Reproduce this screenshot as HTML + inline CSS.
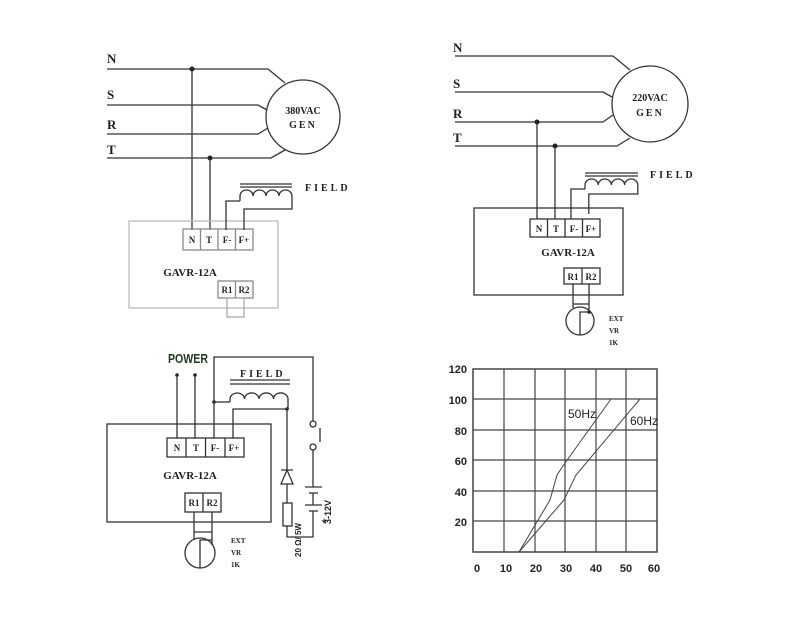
<!DOCTYPE html>
<html><head><style>
body{margin:0;background:#fff}
svg{display:block}
.s{font-family:"Liberation Serif",serif;font-weight:bold;fill:#222}
.a{font-family:"Liberation Sans",sans-serif;font-weight:bold;fill:#222}
</style></head><body>
<svg width="790" height="643" viewBox="0 0 790 643" xmlns="http://www.w3.org/2000/svg" stroke="#333" fill="none" stroke-width="1.3">
<!-- TOP LEFT -->
<g>
<polyline points="107,69 268,69 285,83"/>
<polyline points="107,105 258,105 267,110"/>
<polyline points="107,134 258,134 268,128"/>
<polyline points="107,158 271,158 285,150"/>
<circle cx="303" cy="117" r="37"/>
<g stroke="none">
<text class="s" x="107" y="63" font-size="13">N</text>
<text class="s" x="107" y="99" font-size="13">S</text>
<text class="s" x="107" y="129" font-size="13">R</text>
<text class="s" x="107" y="154" font-size="13">T</text>
<text class="s" x="303" y="114" font-size="10" text-anchor="middle">380VAC</text>
<text class="s" x="303" y="128" font-size="10" text-anchor="middle" letter-spacing="2">GEN</text>
<circle cx="192" cy="69" r="2.5" fill="#222"/>
<circle cx="210" cy="158" r="2.5" fill="#222"/>
<text class="s" x="305" y="191" font-size="10" letter-spacing="3">FIELD</text>
<text class="s" x="190" y="276" font-size="11" text-anchor="middle">GAVR-12A</text>
</g>
<line x1="192" y1="69" x2="192" y2="230"/>
<line x1="210" y1="158" x2="210" y2="230"/>
<rect x="129" y="221" width="149" height="87" stroke="#bbb"/>
<g stroke="#888"><rect x="183" y="229" width="70" height="21"/><line x1="200.5" y1="229" x2="200.5" y2="250"/><line x1="218" y1="229" x2="218" y2="250"/><line x1="235.5" y1="229" x2="235.5" y2="250"/>
<rect x="218" y="281" width="35" height="17"/><line x1="235.5" y1="281" x2="235.5" y2="298"/>
<rect x="227" y="298" width="17" height="19" stroke="#aaa"/></g>
<g stroke="none" class="s" font-size="9" text-anchor="middle"><text class="s" x="192" y="243">N</text><text class="s" x="209" y="243">T</text><text class="s" x="227" y="243">F-</text><text class="s" x="244" y="243">F+</text><text class="s" x="227" y="293">R1</text><text class="s" x="244" y="293">R2</text></g>
<line x1="240" y1="184" x2="292" y2="184"/><line x1="240" y1="187" x2="292" y2="187"/>
<path d="M240,201 v-5 a6.5,6 0 0 1 13,0 a6.5,6 0 0 1 13,0 a6.5,6 0 0 1 13,0 a6.5,6 0 0 1 13,0 v13 h-48 v21"/>
<polyline points="226,230 226,201 240,201"/>
</g>
<!-- TOP RIGHT -->
<g>
<polyline points="455,56 613,56 630,70"/>
<polyline points="455,92 603,92 612,97"/>
<polyline points="455,122 603,122 613,115"/>
<polyline points="455,146 617,146 630,138"/>
<circle cx="650" cy="104" r="38"/>
<g stroke="none">
<text class="s" x="453" y="52" font-size="13">N</text>
<text class="s" x="453" y="88" font-size="13">S</text>
<text class="s" x="453" y="118" font-size="13">R</text>
<text class="s" x="453" y="142" font-size="13">T</text>
<text class="s" x="650" y="101" font-size="10" text-anchor="middle">220VAC</text>
<text class="s" x="650" y="116" font-size="10" text-anchor="middle" letter-spacing="2">GEN</text>
<circle cx="537" cy="122" r="2.5" fill="#222"/>
<circle cx="555" cy="146" r="2.5" fill="#222"/>
<text class="s" x="650" y="178" font-size="10" letter-spacing="3">FIELD</text>
<text class="s" x="568" y="256" font-size="11" text-anchor="middle">GAVR-12A</text>
<text class="s" x="609" y="321" font-size="7">EXT</text>
<text class="s" x="609" y="333" font-size="7">VR</text>
<text class="s" x="609" y="345" font-size="7">1K</text>
<circle cx="589" cy="312" r="1.8" fill="#222"/>
</g>
<line x1="537" y1="122" x2="537" y2="219"/>
<line x1="555" y1="146" x2="555" y2="219"/>
<rect x="474" y="208" width="149" height="87"/>
<rect x="530" y="219" width="70" height="18"/><line x1="547.5" y1="219" x2="547.5" y2="237"/><line x1="565" y1="219" x2="565" y2="237"/><line x1="582.5" y1="219" x2="582.5" y2="237"/>
<rect x="564" y="268" width="36" height="16"/><line x1="582" y1="268" x2="582" y2="284"/>
<g stroke="none" font-size="9" text-anchor="middle"><text class="s" x="539" y="232">N</text><text class="s" x="556" y="232">T</text><text class="s" x="574" y="232">F-</text><text class="s" x="591" y="232">F+</text><text class="s" x="573" y="280">R1</text><text class="s" x="591" y="280">R2</text></g>
<line x1="573" y1="284" x2="573" y2="308"/><line x1="589" y1="284" x2="589" y2="312"/><line x1="573" y1="304" x2="589" y2="304"/>
<circle cx="580" cy="321" r="14"/><polyline points="580,335 580,312 589,312"/>
<line x1="585" y1="173" x2="638" y2="173"/><line x1="585" y1="176" x2="638" y2="176"/>
<path d="M585,189 v-4 a6.6,6 0 0 1 13.2,0 a6.6,6 0 0 1 13.2,0 a6.6,6 0 0 1 13.2,0 a6.6,6 0 0 1 13.2,0 v9 h-49 v20"/>
<polyline points="571,219 571,189 585,189"/>
</g>
<!-- BOTTOM LEFT -->
<g>
<text x="168" y="363" font-family="Liberation Sans,sans-serif" font-weight="bold" font-size="13" fill="#1f3a1f" stroke="none" textLength="40" lengthAdjust="spacingAndGlyphs">POWER</text>
<circle cx="177" cy="375" r="1.8" fill="#222" stroke="none"/><circle cx="195" cy="375" r="1.8" fill="#222" stroke="none"/>
<line x1="177" y1="375" x2="177" y2="438"/><line x1="195" y1="375" x2="195" y2="438"/>
<rect x="107" y="424" width="164" height="98"/>
<rect x="167" y="438" width="77" height="19"/><line x1="186" y1="438" x2="186" y2="457"/><line x1="205.5" y1="438" x2="205.5" y2="457"/><line x1="225" y1="438" x2="225" y2="457"/>
<rect x="185" y="493" width="36" height="19"/><line x1="203" y1="493" x2="203" y2="512"/>
<g stroke="none" font-size="9" text-anchor="middle"><text class="s" x="177" y="451">N</text><text class="s" x="196" y="451">T</text><text class="s" x="215" y="451">F-</text><text class="s" x="234" y="451">F+</text><text class="s" x="194" y="506">R1</text><text class="s" x="212" y="506">R2</text>
<text class="s" x="190" y="479" font-size="11">GAVR-12A</text>
<text class="s" x="240" y="377" font-size="10" letter-spacing="3" text-anchor="start">FIELD</text>
<text class="s" x="231" y="543" font-size="7" text-anchor="start">EXT</text>
<text class="s" x="231" y="555" font-size="7" text-anchor="start">VR</text>
<text class="s" x="231" y="567" font-size="7" text-anchor="start">1K</text>
<circle cx="214" cy="402" r="1.8" fill="#222"/><circle cx="287" cy="409" r="1.8" fill="#222"/>
<text class="a" font-size="8" transform="translate(301,540) rotate(-90)">20 Ω/ 5W</text>
<text class="a" font-size="9" transform="translate(331,512) rotate(-90)">3-12V</text>
<text class="a" x="324" y="524" font-size="9">+</text>
</g>
<polyline points="214,438 214,357 313,357 313,421"/>
<line x1="214" y1="402" x2="230" y2="402"/>
<line x1="230" y1="380" x2="290" y2="380"/><line x1="230" y1="384" x2="290" y2="384"/>
<path d="M230,402 v-3 a7.2,6 0 0 1 14.5,0 a7.2,6 0 0 1 14.5,0 a7.2,6 0 0 1 14.5,0 a7.2,6 0 0 1 14.5,0 v10"/>
<polyline points="233,438 233,409 287,409 287,470"/>
<path d="M281,470 h12 M287,470 l-6,14 h12 z"/>
<line x1="287" y1="484" x2="287" y2="503"/>
<rect x="283" y="503" width="9" height="23"/>
<polyline points="287,526 287,537 313,537 313,511"/>
<circle cx="313" cy="424" r="3"/><circle cx="313" cy="447" r="3"/>
<line x1="320" y1="428" x2="320" y2="442"/>
<line x1="313" y1="450" x2="313" y2="487"/>
<line x1="305" y1="487" x2="322" y2="487"/><line x1="309" y1="493" x2="318" y2="493"/>
<line x1="313" y1="493" x2="313" y2="505"/>
<line x1="305" y1="505" x2="322" y2="505"/><line x1="309" y1="511" x2="318" y2="511"/>
<line x1="194" y1="512" x2="194" y2="540"/><line x1="212" y1="512" x2="212" y2="545"/><line x1="194" y1="532" x2="212" y2="532"/>
<circle cx="200" cy="553" r="15"/><polyline points="200,568 200,540 212,540"/>
</g>
<!-- CHART -->
<g stroke="#444">
<rect x="473" y="369" width="184" height="183" stroke-width="1.5"/>
<g stroke-width="1.2">
<line x1="504" y1="369" x2="504" y2="552"/><line x1="535" y1="369" x2="535" y2="552"/><line x1="565" y1="369" x2="565" y2="552"/><line x1="596" y1="369" x2="596" y2="552"/><line x1="626" y1="369" x2="626" y2="552"/>
<line x1="473" y1="399" x2="657" y2="399"/><line x1="473" y1="430" x2="657" y2="430"/><line x1="473" y1="460" x2="657" y2="460"/><line x1="473" y1="491" x2="657" y2="491"/><line x1="473" y1="521" x2="657" y2="521"/>
</g>
<polyline points="519,552 550,500 557,475 565,463 611,399" stroke-width="1"/>
<polyline points="519,552 564,500 576,475 640,399" stroke-width="1"/>
<g stroke="none" class="a" font-size="11">
<text x="568" y="418" font-weight="normal" font-size="12">50Hz</text>
<text x="630" y="425" font-weight="normal" font-size="12">60Hz</text>
<g text-anchor="end"><text x="467" y="373">120</text><text x="467" y="404">100</text><text x="467" y="435">80</text><text x="467" y="465">60</text><text x="467" y="496">40</text><text x="467" y="526">20</text></g>
<g text-anchor="middle"><text x="477" y="572">0</text><text x="506" y="572">10</text><text x="536" y="572">20</text><text x="566" y="572">30</text><text x="596" y="572">40</text><text x="626" y="572">50</text><text x="654" y="572">60</text></g>
</g>
</g>
</svg>
</body></html>
